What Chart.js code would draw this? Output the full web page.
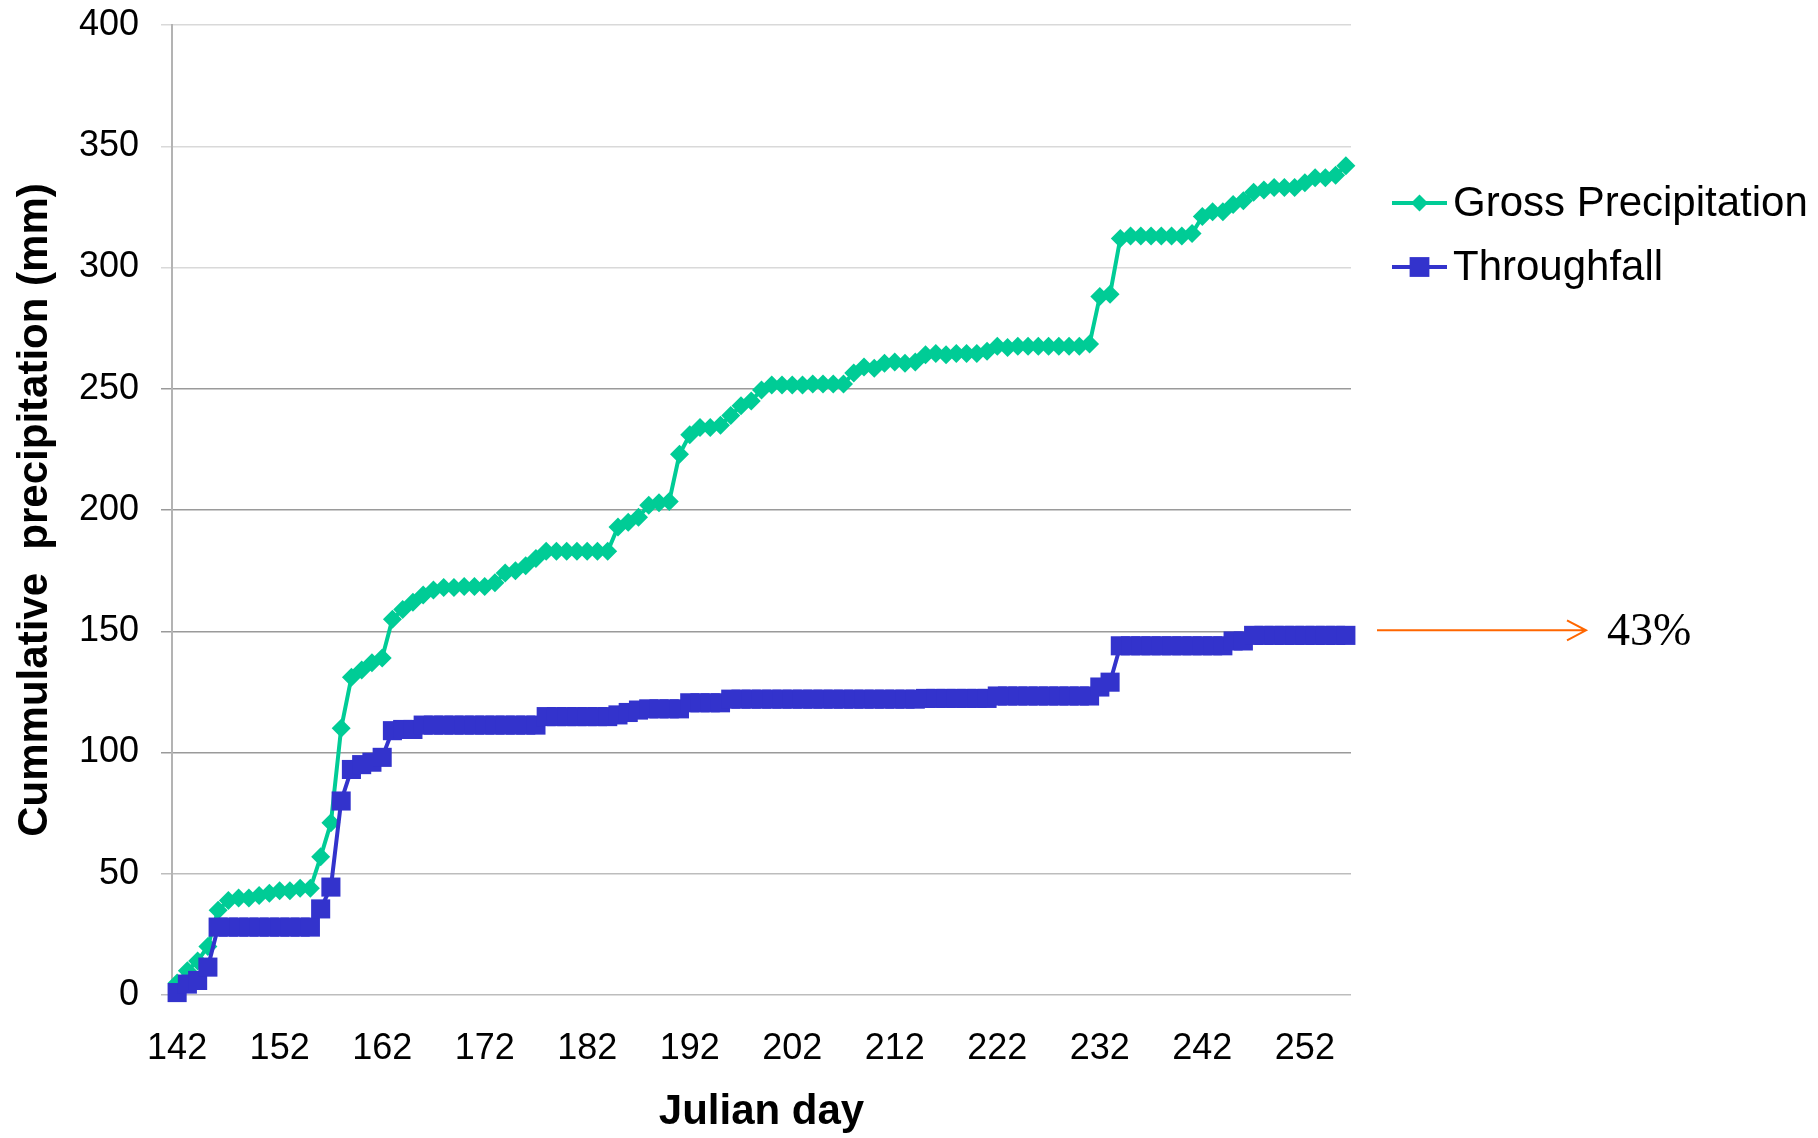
<!DOCTYPE html>
<html>
<head>
<meta charset="utf-8">
<title>Cumulative precipitation</title>
<script src="https://cdn.jsdelivr.net/npm/chart.js@4/dist/chart.umd.min.js"></script>
<style>
  html, body { margin: 0; padding: 0; background: #ffffff; }
  #wrap { width: 1818px; height: 1138px; position: relative; }
  canvas { display: block; }
</style>
</head>
<body>
<div id="wrap"><canvas id="chart" width="1818" height="1138"></canvas></div>
<script>
// Julian days of the record (one category per day)
const days = [
  142,143,144,145,146,147,148,149,150,151,152,153,154,155,156,157,158,159,160,161,
  162,163,164,165,166,167,168,169,170,171,172,173,174,175,176,177,178,179,180,181,
  182,183,184,185,186,187,188,189,190,191,192,193,194,195,196,197,198,199,200,201,
  202,203,204,205,206,207,208,209,210,211,212,213,214,215,216,217,218,219,220,221,
  222,223,224,225,226,227,228,229,230,231,232,233,234,235,236,237,238,239,240,241,
  242,243,244,245,246,247,248,249,250,251,252,253,254,255,256
];

// Cumulative gross precipitation (mm)
const grossPrecipitation = [
  5, 10, 14, 20, 35, 39, 40, 40, 41, 42, 43, 43, 44, 44, 57, 71, 110, 131, 134, 137,
  139, 155, 159, 162, 165, 167, 168, 168, 168.5, 168.5, 168.5, 170, 174, 175, 177, 180, 183, 183, 183, 183,
  183, 183, 183, 193, 195, 197, 202, 203, 203.5, 223, 231, 234, 234, 235, 239, 243, 245, 249.5, 251.5, 251.5,
  251.5, 251.5, 252, 252, 252, 252, 256.5, 259, 258.5, 260.5, 261, 260.5, 261, 264, 264.5, 264, 264.5, 264.5, 264.5, 265.5,
  267.5, 267, 267.5, 267.5, 267.5, 267.5, 267.5, 267.5, 267.5, 268.5, 288, 289, 312, 313, 313, 313, 313, 313, 313, 314,
  321, 323, 323, 326, 327.5, 331, 332, 333, 333, 333, 335, 337, 337, 338, 342
];

// Cumulative throughfall (mm)
const throughfall = [
  1, 4.5, 6, 11.5, 28, 28, 28, 28, 28, 28, 28, 28, 28, 28, 35.5, 44.5, 80, 93, 95, 96,
  98, 109, 109.5, 109.5, 111.3, 111.3, 111.3, 111.3, 111.3, 111.3, 111.3, 111.3, 111.3, 111.3, 111.3, 111.3, 114.8, 114.8, 114.8, 114.8,
  114.8, 114.8, 114.8, 115.5, 116.5, 117.5, 118, 118, 118, 118, 120.5, 120.5, 120.5, 120.5, 122, 122, 122, 122, 122, 122,
  122, 122, 122, 122, 122, 122, 122, 122, 122, 122, 122, 122, 122, 122.3, 122.3, 122.3, 122.3, 122.3, 122.3, 122.3,
  123.3, 123.3, 123.3, 123.3, 123.3, 123.3, 123.3, 123.3, 123.3, 123.3, 127, 129, 144, 144, 144, 144, 144, 144, 144, 144,
  144, 144, 144, 146, 146, 148.3, 148.3, 148.3, 148.3, 148.3, 148.3, 148.3, 148.3, 148.3, 148.3
];

// Axis tick labels
const xTickLabels = [142, 152, 162, 172, 182, 192, 202, 212, 222, 232, 242, 252];
const yTickValues = [0, 50, 100, 150, 200, 250, 300, 350, 400];

const GREEN = 'rgb(0, 204, 150)';
const BLUE = 'rgb(51, 51, 204)';
const ORANGE = 'rgb(255, 102, 0)';
const SANS = "'Liberation Sans', Arial, Helvetica, sans-serif";
const SERIF = "'Liberation Serif', 'Times New Roman', serif";

Chart.defaults.font.family = SANS;
Chart.defaults.color = '#000000';

function drawMarker(ctx, style, x, y, r, color) {
  ctx.save();
  ctx.fillStyle = color;
  ctx.beginPath();
  if (style === 'rectRot') {
    ctx.moveTo(x - r, y);
    ctx.lineTo(x, y - r);
    ctx.lineTo(x + r, y);
    ctx.lineTo(x, y + r);
    ctx.closePath();
  } else {
    const s = r * Math.SQRT1_2;
    ctx.rect(x - s, y - s, 2 * s, 2 * s);
  }
  ctx.fill();
  ctx.restore();
}

// Legend to the right of the plot: short line with marker, then the series name
const sideLegend = {
  id: 'sideLegend',
  afterDraw(chart) {
    const { ctx, chartArea } = chart;
    const lx0 = chartArea.right + 41;
    const lx1 = lx0 + 55;
    const rowY = [chartArea.top + 178, chartArea.top + 242];
    chart.data.datasets.forEach((ds, row) => {
      const y = rowY[row];
      ctx.save();
      ctx.strokeStyle = ds.borderColor;
      ctx.lineWidth = 4;
      ctx.beginPath();
      ctx.moveTo(lx0, y);
      ctx.lineTo(lx1, y);
      ctx.stroke();
      drawMarker(ctx, ds.pointStyle, (lx0 + lx1) / 2, y, ds.pointStyle === 'rectRot' ? 8.5 : 14, ds.borderColor);
      ctx.fillStyle = '#000000';
      ctx.font = '42px ' + SANS;
      ctx.textBaseline = 'middle';
      ctx.textAlign = 'left';
      ctx.fillText(ds.label, lx1 + 6, y + 1);
      ctx.restore();
    });
  }
};

// Arrow pointing at the final throughfall total, labelled with its share of gross precipitation
const ratioArrow = {
  id: 'ratioArrow',
  afterDraw(chart) {
    const { ctx, chartArea } = chart;
    const yScale = chart.scales.y;
    const tfEnd = throughfall[throughfall.length - 1];
    const gpEnd = grossPrecipitation[grossPrecipitation.length - 1];
    const y = yScale.getPixelForValue(tfEnd) - 5;
    const xa = chartArea.right + 26;
    const xb = chartArea.right + 235;
    ctx.save();
    ctx.strokeStyle = ORANGE;
    ctx.lineWidth = 2;
    ctx.beginPath();
    ctx.moveTo(xa, y);
    ctx.lineTo(xb, y);
    ctx.moveTo(xb - 19, y - 10);
    ctx.lineTo(xb, y);
    ctx.lineTo(xb - 19, y + 10);
    ctx.stroke();
    ctx.fillStyle = '#000000';
    ctx.font = '46px ' + SERIF;
    ctx.textBaseline = 'middle';
    ctx.textAlign = 'left';
    ctx.fillText(Math.round(tfEnd / gpEnd * 100) + '%', chartArea.right + 256, y + 3);
    ctx.restore();
  }
};

new Chart(document.getElementById('chart'), {
  type: 'line',
  data: {
    labels: days,
    datasets: [
      {
        label: 'Gross Precipitation',
        data: grossPrecipitation,
        borderColor: GREEN,
        backgroundColor: GREEN,
        borderWidth: 4,
        pointStyle: 'rectRot',
        pointRadius: 9.5,
        pointBorderWidth: 0,
        pointBackgroundColor: GREEN,
        tension: 0,
        order: 2
      },
      {
        label: 'Throughfall',
        data: throughfall,
        borderColor: BLUE,
        backgroundColor: BLUE,
        borderWidth: 4,
        pointStyle: 'rect',
        pointRadius: 13.5,
        pointBorderWidth: 0,
        pointBackgroundColor: BLUE,
        tension: 0,
        order: 1
      }
    ]
  },
  options: {
    responsive: false,
    animation: false,
    devicePixelRatio: 1,
    clip: false,
    layout: { padding: { top: 25, right: 467, bottom: 0, left: 0 } },
    plugins: {
      legend: { display: false },
      tooltip: { enabled: false }
    },
    scales: {
      x: {
        type: 'category',
        offset: true,
        grid: { display: false, drawTicks: false },
        border: { display: false },
        ticks: {
          autoSkip: false,
          maxRotation: 0,
          minRotation: 0,
          padding: 32,
          font: { size: 36 },
          color: '#000000',
          callback(value, index) {
            const d = days[index];
            return xTickLabels.includes(d) ? String(d) : null;
          }
        },
        title: {
          display: true,
          text: 'Julian day',
          font: { size: 42, weight: 'bold' },
          color: '#000000',
          padding: { top: 0, bottom: 0 }
        },
        afterFit(scale) {
          scale.height = 143;
          scale.paddingLeft = 0;
          scale.paddingRight = 0;
        }
      },
      y: {
        min: 0,
        max: 400,
        afterBuildTicks(scale) { scale.ticks = yTickValues.map(v => ({ value: v })); },
        grid: {
          color(ctx) {
            const v = ctx.tick ? ctx.tick.value : 0;
            if (v >= 300) return '#d9d9d9';
            if (v >= 100) return '#9a9a9a';
            return '#bdbdbd';
          },
          lineWidth: 1.5,
          tickLength: 11,
          drawTicks: true
        },
        border: { display: true, color: '#b3b3b3', width: 2 },
        ticks: {
          padding: 22,
          font: { size: 36, lineHeight: 1.0 },
          color: '#000000'
        },
        title: {
          display: true,
          text: 'Cummulative  precipitation (mm)',
          font: { size: 42, weight: 'bold' },
          color: '#000000',
          padding: { top: 10, bottom: 0 }
        },
        afterFit(scale) {
          scale.width = 172;
          scale.paddingTop = 0;
          scale.paddingBottom = 0;
        }
      }
    }
  },
  plugins: [sideLegend, ratioArrow]
});
</script>
</body>
</html>
